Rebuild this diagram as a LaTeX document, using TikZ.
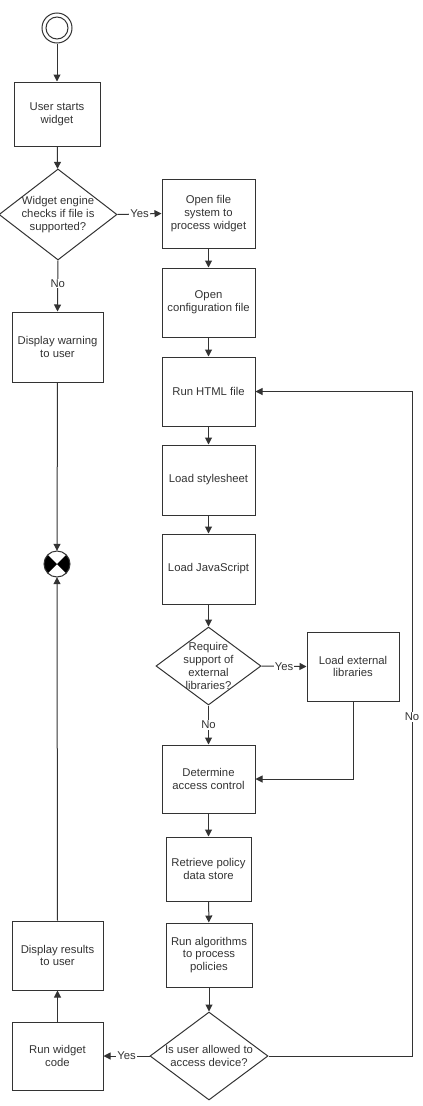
\documentclass[tikz,border=0pt]{standalone}
\usepackage{fontspec}
\setmainfont{Liberation Sans}
\usetikzlibrary{arrows.meta,shapes.geometric,calc}
\definecolor{ink}{HTML}{333333}
\begin{document}
\begin{tikzpicture}[x=1pt,y=-1pt,
  every node/.style={font=\fontsize{11.3}{12.8}\selectfont, text=ink},
  box/.style={draw=ink, line width=1pt, rectangle, inner sep=0pt, align=center, minimum width=93pt, minimum height=69pt},
  dia/.style={draw=ink, line width=1pt, diamond, inner sep=0pt},
  txt/.style={align=center, inner sep=0pt},
  lbl/.style={fill=white, inner sep=1pt},
  flow/.style={draw=ink, line width=1pt, -{Triangle[length=7pt,width=7pt]}},
  line/.style={draw=ink, line width=1pt}
]
\useasboundingbox (0,0) rectangle (423,1106);

% start
\node[draw=ink, line width=1pt, circle, minimum size=30pt, inner sep=0pt] (start) at (57,28) {};
\draw[ink, line width=1pt] (start.center) circle[radius=11pt];

\node[box, minimum width=86pt, minimum height=64pt] (u) at (57,114) {User starts\\widget};
\node[dia, minimum width=118pt, minimum height=91pt] (d1) at (58,214.5) {};
\node[txt] at (d1.center) {Widget engine\\checks if file is\\supported?};

\node[box] (ofs) at (208.5,213.5) {Open file\\system to\\process widget};
\node[box] (ocf) at (208.5,302.5) {Open\\configuration file};
\node[box] (html) at (208.5,391.5) {Run HTML file};
\node[box, minimum height=70pt] (css) at (208.5,480) {Load stylesheet};
\node[box, minimum height=70pt] (js) at (208.5,569) {Load JavaScript};
\node[dia, minimum width=105pt, minimum height=78pt] (d2) at (208.5,666) {};
\node[txt] at (d2.center) {Require\\support of\\external\\libraries?};
\node[box, minimum width=92pt] (lib) at (353,666.5) {Load external\\libraries};
\node[box, minimum height=68pt] (dac) at (208.5,779) {Determine\\access control};
\node[box, minimum width=85pt, minimum height=64pt] (rp) at (208.5,869) {Retrieve policy\\data store};
\node[box, minimum width=86pt, minimum height=64pt] (ra) at (209,955) {Run algorithms\\to process\\policies};
\node[dia, minimum width=118pt, minimum height=88pt] (d3) at (209,1056) {};
\node[txt] at (d3.center) {Is user allowed to\\access device?};

\node[box, minimum width=91pt, minimum height=68pt] (rwc) at (57.5,1056) {Run widget\\code};
\node[box, minimum width=91pt, minimum height=69pt] (drs) at (57.5,955.5) {Display results\\to user};
\node[box, minimum width=91pt, minimum height=70pt] (dw) at (57.5,347) {Display warning\\to user};

% end symbol
\node[circle, minimum size=26pt, inner sep=0pt] (end) at (57,564) {};
\fill[black] (end.center) -- ($(end.center)+(-135:13pt)$) arc[start angle=-135, end angle=-225, radius=13pt] -- cycle;
\fill[black] (end.center) -- ($(end.center)+(-45:13pt)$) arc[start angle=-45, end angle=45, radius=13pt] -- cycle;
\draw[ink, line width=1pt] (end.center) circle[radius=13pt];

% connectors
\draw[flow] (start) -- (u);
\draw[flow] (u) -- (d1);
\draw[flow] (d1.east) -- node[lbl] {Yes} (ofs.west);
\draw[flow] (d1.south) -- node[lbl, pos=0.45] {No} (dw.north);
\draw[flow] (dw.south) -- (end.north);
\draw[flow] (drs.north) -- (end.south);
\draw[flow] (ofs) -- (ocf);
\draw[flow] (ocf) -- (html);
\draw[flow] (html) -- (css);
\draw[flow] (css) -- (js);
\draw[flow] (js) -- (d2.north);
\draw[flow] (d2.east) -- node[lbl] {Yes} (lib.west);
\draw[flow] (d2.south) -- node[lbl] {No} (dac.north);
\draw[flow] (lib.south) |- (dac.east);
\draw[flow] (dac) -- (rp);
\draw[flow] (rp) -- (ra);
\draw[flow] (ra) -- (d3.north);
\draw[flow] (d3.west) -- node[lbl] {Yes} (rwc.east);
\draw[flow] (rwc) -- (drs);
\coordinate (cb) at (412,1056);
\coordinate (ct) at (412,391.5);
\draw[flow] (d3.east) -- (cb) -- node[lbl, pos=0.51] {No} (ct) -- (html.east);
\end{tikzpicture}
\end{document}
